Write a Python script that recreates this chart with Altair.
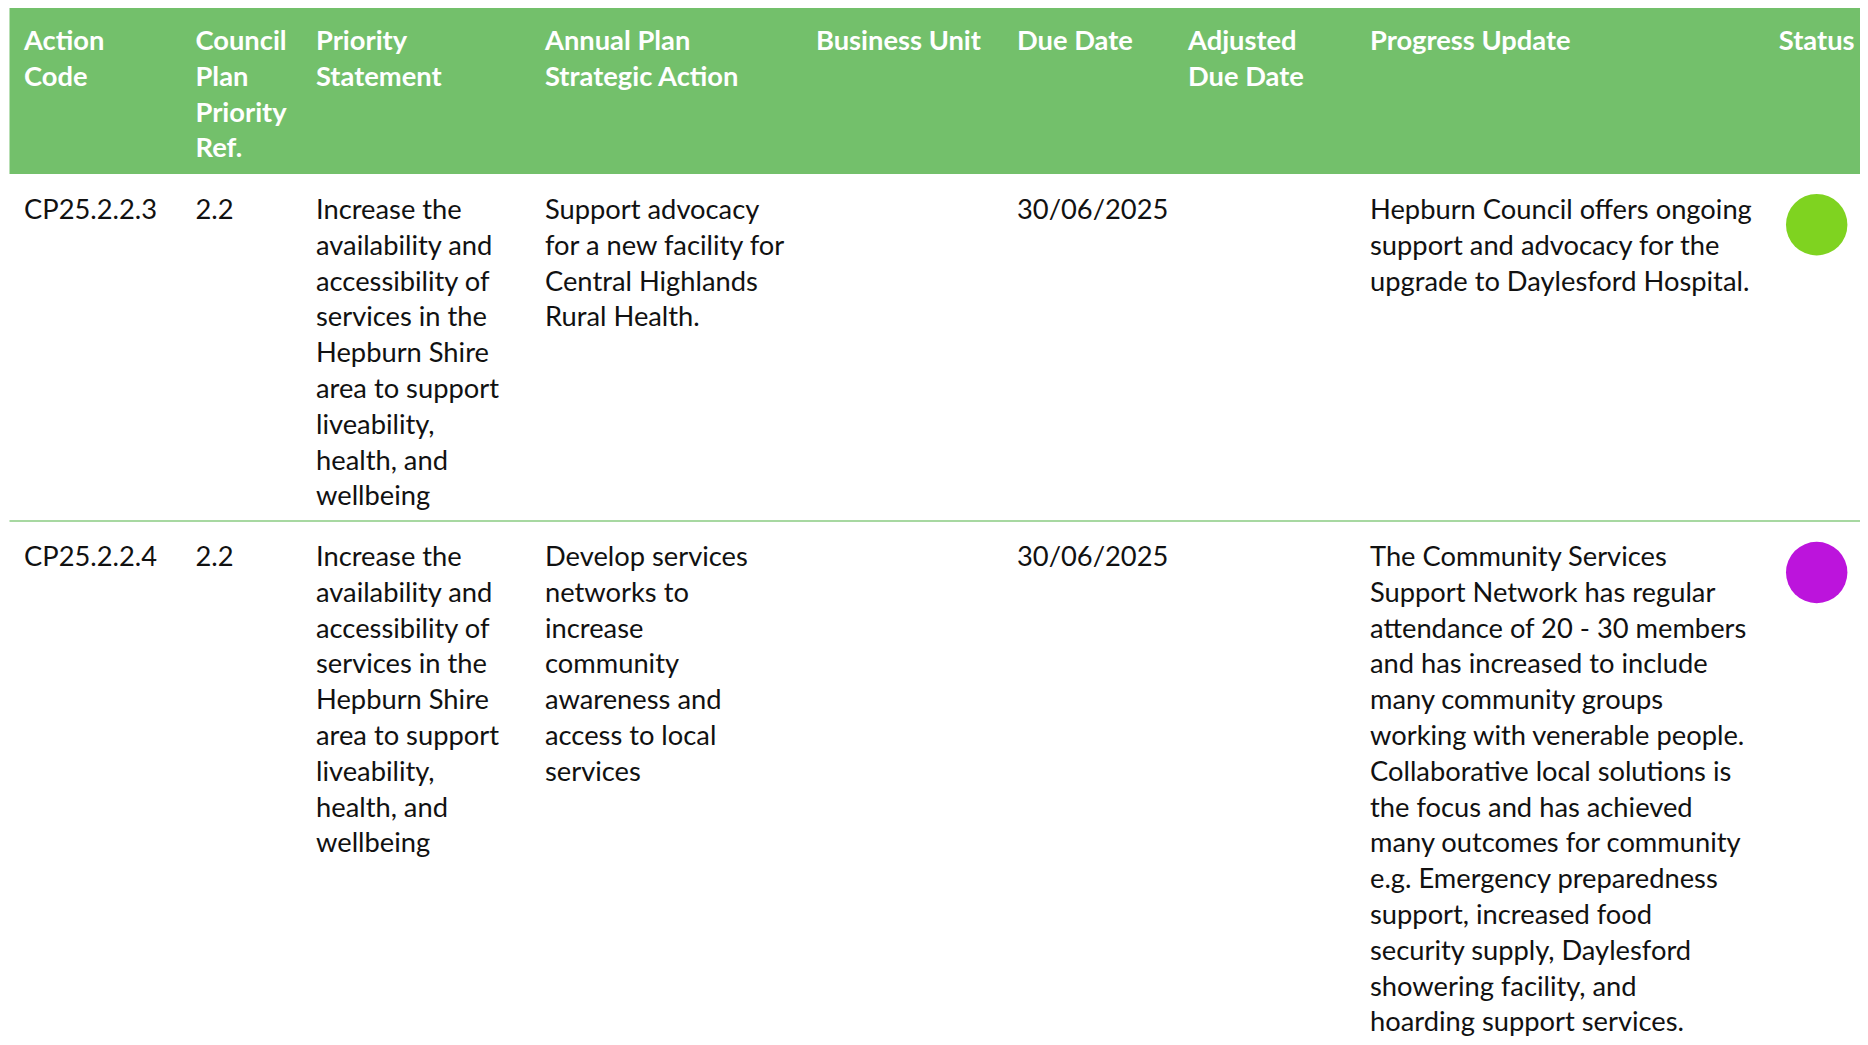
import altair as alt
import pandas as pd

# ---------------- data ----------------
headers = [
    "Action\nCode",
    "Council\nPlan\nPriority\nRef.",
    "Priority\nStatement",
    "Annual Plan\nStrategic Action",
    "Business Unit",
    "Due Date",
    "Adjusted\nDue Date",
    "Progress Update",
    "Status",
]
action_codes = ["CP25.2.2.3", "CP25.2.2.4"]
priority_refs = ["2.2", "2.2"]
priority_statements = [
    "Increase the\navailability and\naccessibility of\nservices in the\nHepburn Shire\narea to support\nliveability,\nhealth, and\nwellbeing",
    "Increase the\navailability and\naccessibility of\nservices in the\nHepburn Shire\narea to support\nliveability,\nhealth, and\nwellbeing",
]
strategic_actions = [
    "Support advocacy\nfor a new facility for\nCentral Highlands\nRural Health.",
    "Develop services\nnetworks to\nincrease\ncommunity\nawareness and\naccess to local\nservices",
]
business_units = ["", ""]
due_dates = ["30/06/2025", "30/06/2025"]
adjusted_due_dates = ["", ""]
progress_updates = [
    "Hepburn Council offers ongoing\nsupport and advocacy for the\nupgrade to Daylesford Hospital.",
    "The Community Services\nSupport Network has regular\nattendance of 20 - 30 members\nand has increased to include\nmany community groups\nworking with venerable people.\nCollaborative local solutions is\nthe focus and has achieved\nmany outcomes for community\ne.g. Emergency preparedness\nsupport, increased food\nsecurity supply, Daylesford\nshowering facility, and\nhoarding support services.",
]
statuses = ["green", "purple"]

# ---------------- layout (pixels of the table canvas) ----------------
W, H = 1852, 1029
COL_X = [16, 187.5, 308, 537, 808, 1009, 1180, 1362]
STATUS_X = 1808.7
HEADER_TOP, HEADER_BOTTOM, TABLE_LEFT = 0, 166, 1.5
HEADER_BASE = 42
ROW_BASE = [211, 558]
ROW_SEPARATORS = [513]
CIRCLE_Y = [216.7, 564.5]
LINE_H = 35.8
FONT = "Lato"
FS = 27.3
GREEN = "#73C06B"

xs = alt.Scale(domain=[0, W], nice=False, zero=False)
ys = alt.Scale(domain=[0, H], nice=False, zero=False, reverse=True)

# header background
hdr_bg = pd.DataFrame([{"x": TABLE_LEFT, "x2": W, "y": HEADER_TOP, "y2": HEADER_BOTTOM}])
bg = alt.Chart(hdr_bg).mark_rect(color=GREEN).encode(
    x=alt.X("x:Q", scale=xs, axis=None), x2="x2:Q",
    y=alt.Y("y:Q", scale=ys, axis=None), y2="y2:Q",
)

# row separators
sep_df = pd.DataFrame([{"x": TABLE_LEFT, "x2": W, "y": s} for s in ROW_SEPARATORS])
sep = alt.Chart(sep_df).mark_rule(color="#8ACB82", strokeWidth=1.5).encode(
    x=alt.X("x:Q", scale=xs, axis=None), x2="x2:Q",
    y=alt.Y("y:Q", scale=ys, axis=None),
)

# header text
hdr_rows = [{"x": COL_X[i], "y": HEADER_BASE, "text": h} for i, h in enumerate(headers[:-1])]
hdr_left = alt.Chart(pd.DataFrame(hdr_rows)).mark_text(
    align="left", baseline="alphabetic", lineBreak="\n", lineHeight=LINE_H,
    font=FONT, fontSize=FS, fontWeight="bold", color="white",
).encode(
    x=alt.X("x:Q", scale=xs, axis=None), y=alt.Y("y:Q", scale=ys, axis=None), text="text:N"
)
hdr_status = alt.Chart(pd.DataFrame([{"x": STATUS_X, "y": HEADER_BASE, "text": headers[-1]}])).mark_text(
    align="center", baseline="alphabetic",
    font=FONT, fontSize=FS, fontWeight="bold", color="white",
).encode(
    x=alt.X("x:Q", scale=xs, axis=None), y=alt.Y("y:Q", scale=ys, axis=None), text="text:N"
)

# body text
cells = []
for r in range(len(action_codes)):
    vals = [action_codes[r], priority_refs[r], priority_statements[r], strategic_actions[r],
            business_units[r], due_dates[r], adjusted_due_dates[r], progress_updates[r]]
    for c, v in enumerate(vals):
        if v:
            cells.append({"x": COL_X[c], "y": ROW_BASE[r], "text": v})
body = alt.Chart(pd.DataFrame(cells)).mark_text(
    align="left", baseline="alphabetic", lineBreak="\n", lineHeight=LINE_H,
    font=FONT, fontSize=FS, color="#111111",
).encode(
    x=alt.X("x:Q", scale=xs, axis=None), y=alt.Y("y:Q", scale=ys, axis=None), text="text:N"
)

# status circles
circ_df = pd.DataFrame([{"x": STATUS_X, "y": CIRCLE_Y[i], "status": s} for i, s in enumerate(statuses)])
circles = alt.Chart(circ_df).mark_circle(size=3772, opacity=1).encode(
    x=alt.X("x:Q", scale=xs, axis=None), y=alt.Y("y:Q", scale=ys, axis=None),
    color=alt.Color("status:N", scale=alt.Scale(domain=["green", "purple"], range=["#7FD320", "#BC14DC"]), legend=None),
)

chart = alt.layer(bg, sep, hdr_left, hdr_status, body, circles).properties(
    width=W, height=H, padding=0, background="white",
    autosize=alt.AutoSizeParams(type="none"),
).configure_view(strokeWidth=0)

chart.save("out.html", embed_options={"renderer": "svg", "actions": False})
